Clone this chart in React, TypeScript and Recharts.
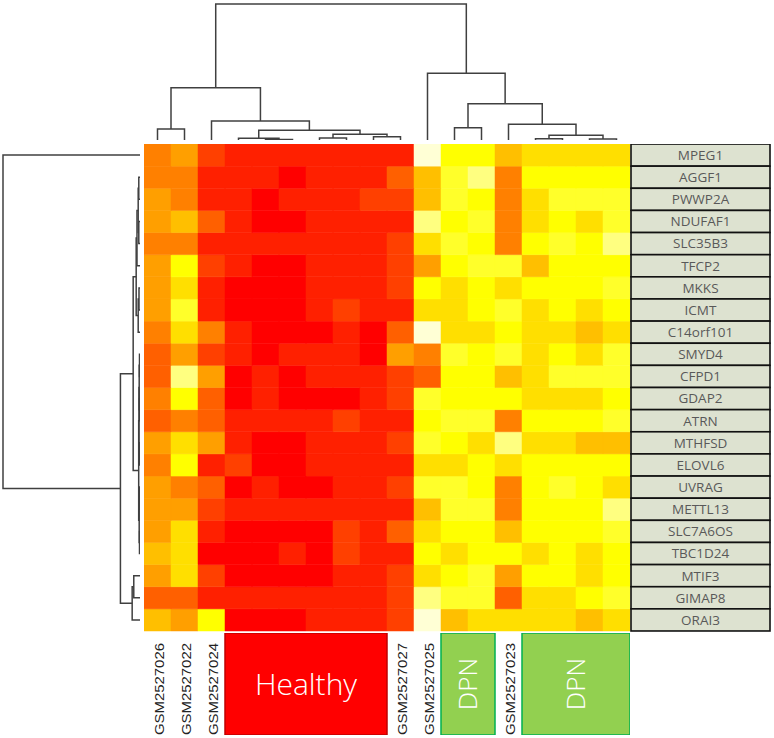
import React from "react"
import {
  Bar,
  BarChart,
  Cell,
  ComposedChart,
  ReferenceArea,
  Scatter,
  ScatterChart,
  XAxis,
  YAxis,
} from "recharts"

// genes, top to bottom
const genes = [
  "MPEG1", "AGGF1", "PWWP2A", "NDUFAF1", "SLC35B3", "TFCP2", "MKKS", "ICMT",
  "C14orf101", "SMYD4", "CFPD1", "GDAP2", "ATRN", "MTHFSD", "ELOVL6", "UVRAG",
  "METTL13", "SLC7A6OS", "TBC1D24", "MTIF3", "GIMAP8", "ORAI3",
]

// sample labels left to right ("" = hidden under a group box)
const sampleLabels = [
  "GSM2527026", "GSM2527022", "GSM2527024", "", "", "", "", "", "",
  "GSM2527027", "GSM2527025", "", "", "GSM2527023", "", "", "", "",
]

// expression level per cell, 0 = red (low) ... 11 = pale yellow (high)
const levels = [
  [4, 5, 2, 1, 1, 1, 1, 1, 1, 1, 11, 8, 8, 6, 7, 7, 7, 7],
  [4, 4, 1, 1, 1, 0, 1, 1, 1, 3, 6, 9, 10, 4, 8, 8, 8, 8],
  [5, 4, 1, 1, 0, 1, 1, 1, 2, 2, 6, 9, 8, 4, 7, 9, 9, 9],
  [5, 6, 3, 1, 0, 0, 1, 1, 1, 1, 10, 8, 9, 4, 7, 8, 7, 9],
  [4, 4, 1, 1, 1, 1, 1, 1, 1, 2, 7, 9, 8, 4, 8, 9, 8, 10],
  [5, 8, 2, 1, 0, 0, 1, 1, 1, 2, 5, 8, 9, 9, 6, 8, 8, 8],
  [5, 7, 1, 0, 0, 0, 1, 1, 1, 2, 8, 7, 8, 7, 8, 8, 8, 9],
  [5, 9, 1, 0, 0, 0, 1, 2, 1, 1, 7, 7, 8, 9, 7, 8, 7, 8],
  [4, 7, 4, 1, 0, 0, 0, 1, 0, 3, 11, 7, 7, 8, 7, 7, 6, 7],
  [3, 5, 2, 1, 0, 1, 1, 1, 0, 5, 4, 9, 8, 9, 7, 8, 7, 9],
  [3, 10, 5, 0, 1, 0, 1, 1, 1, 2, 3, 8, 8, 6, 7, 9, 9, 9],
  [4, 8, 3, 0, 1, 0, 0, 0, 1, 2, 9, 8, 8, 8, 7, 7, 7, 8],
  [3, 4, 3, 1, 1, 1, 1, 2, 1, 1, 8, 9, 9, 4, 8, 8, 8, 9],
  [5, 7, 5, 1, 0, 0, 1, 1, 1, 2, 9, 8, 7, 10, 7, 7, 6, 6],
  [4, 8, 1, 2, 0, 0, 1, 1, 1, 1, 7, 7, 8, 7, 8, 8, 8, 8],
  [5, 4, 3, 0, 1, 0, 0, 1, 1, 2, 9, 9, 8, 4, 8, 9, 8, 7],
  [5, 5, 2, 1, 1, 1, 1, 1, 1, 1, 6, 9, 9, 4, 8, 8, 8, 10],
  [5, 7, 1, 0, 0, 0, 0, 2, 1, 3, 7, 8, 8, 6, 8, 8, 8, 9],
  [6, 7, 0, 0, 0, 1, 0, 2, 1, 1, 8, 7, 8, 8, 7, 8, 7, 8],
  [5, 7, 2, 0, 0, 0, 0, 1, 1, 2, 7, 8, 9, 5, 8, 8, 7, 8],
  [3, 3, 1, 1, 1, 1, 1, 1, 1, 2, 10, 9, 9, 3, 7, 7, 8, 9],
  [6, 5, 8, 0, 0, 0, 1, 1, 1, 2, 11, 6, 7, 7, 7, 7, 6, 7],
]

// hclust style merges: negative = leaf -(i+1), positive = earlier merge number
const colMerges = [
  [-1, -2, 1.1], [-5, -6, 0.05], [-4, 2, 0.17], [-7, -8, 0.2], [-9, -10, 0.33],
  [4, 5, 0.57], [3, 6, 0.97], [-3, 7, 1.9], [1, 8, 5.23], [-12, -13, 1.23],
  [-15, -16, 0.13], [-17, -18, 0.1], [11, 12, 0.47], [-14, 13, 1.57],
  [10, 14, 3.63], [-11, 15, 6.67], [9, 16, 13.6],
]
const rowMerges = [
  [-2, -3, 0.12], [-4, -5, 0.12], [1, 2, 0.18], [3, -6, 0.3], [-7, -8, 0.1],
  [5, -9, 0.18], [4, 6, 0.38], [-10, -11, 0.05], [-12, -13, 0.06], [8, 9, 0.08],
  [-14, -15, 0.05], [10, 11, 0.1], [-16, -17, 0.04], [-18, -19, 0.05],
  [13, 14, 0.08], [12, 15, 0.13], [7, 16, 0.68], [-20, -21, 0.62],
  [18, -22, 0.78], [17, 19, 1.95], [-1, 20, 13.65],
]

const groupNames = ["Healthy", "DPN", "DPN"]
const groupStart = [3, 11, 14]
const groupEnd = [9, 13, 18]

// R heat.colors(12)
const heat = [
  "#FF0000", "#FF2000", "#FF4000", "#FF6000", "#FF8000", "#FF9F00",
  "#FFBF00", "#FFDF00", "#FFFF00", "#FFFF2A", "#FFFF80", "#FFFFD5",
]

const nRows = genes.length
const nCols = sampleLabels.length
const lineColor = "#404040"

// rows stacked bottom-up, so row r sits at nRows - r - 0.5
const rowPos = (r: number) => nRows - r - 0.5
const colPos = (c: number) => c + 0.5

const dendro = (merges: number[][], leafPos: (i: number) => number) => {
  const pos: number[] = []
  const hts: number[] = []
  const get = (k: number) =>
    k < 0 ? { p: leafPos(-k - 1), h: 0 } : { p: pos[k - 1], h: hts[k - 1] }
  return merges.map(([a, b, h], m) => {
    const A = get(a)
    const B = get(b)
    pos[m] = (A.p + B.p) / 2
    hts[m] = h
    return [
      { p: A.p, h: A.h },
      { p: A.p, h },
      { p: B.p, h },
      { p: B.p, h: B.h },
    ]
  })
}

const colSegs = dendro(colMerges, colPos).map((s) => s.map((d) => ({ x: d.p, y: d.h })))
const rowSegs = dendro(rowMerges, rowPos).map((s) => s.map((d) => ({ x: d.h, y: d.p })))

const heatData = sampleLabels.map((_, j) => {
  const o: { [k: string]: number } = { col: j }
  genes.forEach((_, i) => {
    o[`r${i}`] = 1
  })
  return o
})
const rowTicks = genes.map((_, i) => rowPos(i))
const annoData = sampleLabels.map((_, j) => ({ x: colPos(j), y: 0.5 }))

const noDot = () => <g />

const SampleTick = (p: any) => {
  const label = sampleLabels[p.payload.value]
  if (!label) return <g />
  const x = p.x + 1.5
  return (
    <text
      x={x}
      y={p.y}
      transform={`rotate(-90 ${x} ${p.y})`}
      textAnchor="end"
      dy="0.36em"
      fontFamily="'Liberation Sans', Arial, sans-serif"
      fontSize={12.6}
      fill="#222"
      textLength={92}
      lengthAdjust="spacingAndGlyphs"
    >
      {label}
    </text>
  )
}

const GeneTick = (p: any) => {
  const i = Math.round(nRows - 0.5 - p.payload.value)
  return (
    <g>
      <rect
        x={p.x + 1}
        y={p.y - 11.05}
        width={139}
        height={22.1}
        fill="#dde2d0"
        stroke="#111"
        strokeWidth={1.6}
      />
      <text
        x={p.x + 70.5}
        y={p.y}
        dy="0.36em"
        textAnchor="middle"
        fontFamily="'Open Sans', sans-serif"
        fontSize={13.5}
        fill="#595959"
      >
        {genes[i]}
      </text>
    </g>
  )
}

const GroupLabel = (props: any) => {
  const { viewBox, name } = props
  const cx = viewBox.x + viewBox.width / 2
  const cy = viewBox.y + viewBox.height / 2
  const vertical = name !== "Healthy"
  return (
    <text
      x={cx}
      y={cy}
      dy="0.36em"
      textAnchor="middle"
      transform={vertical ? `rotate(-90 ${cx} ${cy})` : undefined}
      fontFamily="'Open Sans', sans-serif"
      fontWeight={300}
      fontSize={vertical ? 26 : 30}
      fill="#fff"
    >
      {name}
    </text>
  )
}

const groupStyle: { [k: string]: { fill: string; stroke: string } } = {
  Healthy: { fill: "#ff0000", stroke: "#c00000" },
  DPN: { fill: "#92d050", stroke: "#00b050" },
}

export default function App() {
  return (
    <div
      style={{
        position: "fixed",
        left: 0,
        top: 0,
        width: 774,
        height: 738,
        background: "#fff",
        overflow: "hidden",
      }}
    >
      {/* column dendrogram */}
      <div style={{ position: "absolute", left: 144, top: 0 }}>
        <ScatterChart width={486} height={140} margin={{ top: 4, right: 0, bottom: 0, left: 0 }}>
          <XAxis type="number" dataKey="x" domain={[0, nCols]} hide />
          <YAxis type="number" dataKey="y" domain={[0, 13.6]} hide />
          {colSegs.map((seg, k) => (
            <Scatter
              key={k}
              data={seg}
              line={{ stroke: lineColor, strokeWidth: 1.5 }}
              shape={noDot}
              isAnimationActive={false}
            />
          ))}
        </ScatterChart>
      </div>

      {/* row dendrogram */}
      <div style={{ position: "absolute", left: 0, top: 144 }}>
        <ScatterChart width={140} height={487} margin={{ top: 0, right: 0, bottom: 0, left: 3 }}>
          <XAxis type="number" dataKey="x" domain={[0, 13.65]} reversed hide />
          <YAxis type="number" dataKey="y" domain={[0, nRows]} hide />
          {rowSegs.map((seg, k) => (
            <Scatter
              key={k}
              data={seg}
              line={{ stroke: lineColor, strokeWidth: 1.5 }}
              shape={noDot}
              isAnimationActive={false}
            />
          ))}
        </ScatterChart>
      </div>

      {/* heatmap */}
      <div style={{ position: "absolute", left: 144, top: 144 }}>
        <BarChart
          width={628}
          height={594}
          data={heatData}
          barCategoryGap={0}
          barGap={0}
          margin={{ top: 0, right: 0, bottom: 0, left: 0 }}
        >
          <XAxis
            dataKey="col"
            height={107}
            axisLine={false}
            tickLine={false}
            tickSize={0}
            tickMargin={12}
            interval={0}
            tick={SampleTick}
          />
          <YAxis
            type="number"
            orientation="right"
            domain={[0, nRows]}
            ticks={rowTicks}
            width={142}
            axisLine={false}
            tickLine={false}
            tickSize={0}
            tickMargin={0}
            interval={0}
            tick={GeneTick}
          />
          {genes
            .map((g, i) => ({ g, i }))
            .reverse()
            .map(({ g, i }) => (
              <Bar key={g} dataKey={`r${i}`} stackId="h" isAnimationActive={false}>
                {heatData.map((_, j) => (
                  <Cell
                    key={j}
                    fill={heat[levels[i][j]]}
                    stroke={heat[levels[i][j]]}
                    strokeWidth={0.5}
                  />
                ))}
              </Bar>
            ))}
        </BarChart>
      </div>

      {/* sample group boxes */}
      <div style={{ position: "absolute", left: 144, top: 633 }}>
        <ComposedChart
          width={486}
          height={102}
          data={annoData}
          margin={{ top: 0, right: 0, bottom: 0, left: 0 }}
        >
          <XAxis type="number" dataKey="x" domain={[0, nCols]} hide />
          <YAxis type="number" dataKey="y" domain={[0, 1]} hide />
          {groupNames.map((name, k) => (
            <ReferenceArea
              key={k}
              x1={groupStart[k]}
              x2={groupEnd[k]}
              y1={0}
              y2={1}
              fill={groupStyle[name].fill}
              fillOpacity={1}
              stroke={groupStyle[name].stroke}
              strokeWidth={1.5}
              label={<GroupLabel name={name} />}
            />
          ))}
        </ComposedChart>
      </div>
    </div>
  )
}
